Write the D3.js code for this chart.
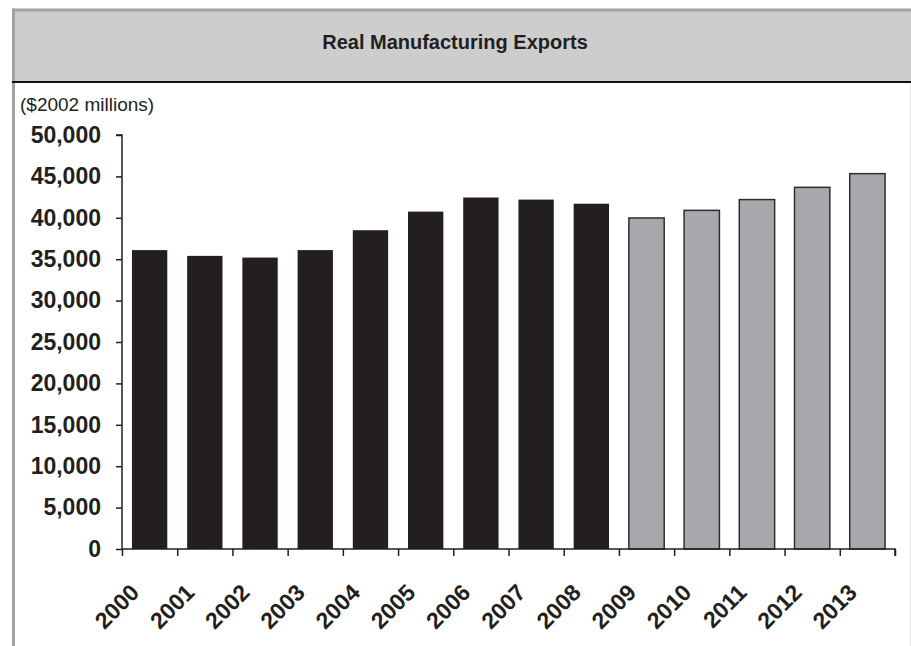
<!DOCTYPE html>
<html lang="en">
<head>
<meta charset="UTF-8">
<title>Real Manufacturing Exports</title>
<style>
    body {
        margin: 0;
        padding: 0;
        background-color: #fff;
        font-family: "Liberation Sans", Arial, sans-serif;
    }
    svg text {
        fill: #231f20;
    }
</style>
</head>
<body>
<svg id="chart" width="911" height="646"></svg>

<script src="https://d3js.org/d3.v7.min.js"></script>
<script>
    // data
    var years = ["2000", "2001", "2002", "2003", "2004", "2005", "2006",
                 "2007", "2008", "2009", "2010", "2011", "2012", "2013"];
    var exportsValues = [36100, 35400, 35200, 36100, 38500, 40750, 42450,
                         42200, 41700, 39980, 40900, 42200, 43680, 45330];
    // first forecast year (grey bars)
    var forecastFrom = "2009";
    var yTicks = [0, 5000, 10000, 15000, 20000, 25000, 30000, 35000, 40000, 45000, 50000];

    var svg = d3.select("#chart");

    // frame and header band
    svg.append("rect")
        .attr("x", 13).attr("y", 10)
        .attr("width", 898).attr("height", 72)
        .attr("fill", "#cccdcc");
    svg.append("line")
        .attr("x1", 13).attr("x2", 911).attr("y1", 10).attr("y2", 10)
        .attr("stroke", "#a2a2a2").attr("stroke-width", 3);
    svg.append("line")
        .attr("x1", 13.5).attr("x2", 13.5).attr("y1", 8.5).attr("y2", 646)
        .attr("stroke", "#a2a2a2").attr("stroke-width", 3);
    svg.append("line")
        .attr("x1", 910.5).attr("x2", 910.5).attr("y1", 82).attr("y2", 646)
        .attr("stroke", "#e4e4e4").attr("stroke-width", 1);
    svg.append("line")
        .attr("x1", 12).attr("x2", 911).attr("y1", 82).attr("y2", 82)
        .attr("stroke", "#111").attr("stroke-width", 2);

    svg.append("text")
        .attr("x", 455).attr("y", 49)
        .attr("text-anchor", "middle")
        .style("font-size", "20px")
        .style("font-weight", "bold")
        .text("Real Manufacturing Exports");

    svg.append("text")
        .attr("x", 20).attr("y", 111)
        .style("font-size", "19px")
        .text("($2002 millions)");

    // scales
    var xScale = d3.scaleBand()
        .domain(years)
        .range([122, 895])
        .paddingInner(0.36)
        .paddingOuter(0.18);

    var yScale = d3.scaleLinear()
        .domain([0, 50000])
        .range([549, 135]);

    // bars
    svg.append("g")
        .selectAll("rect")
        .data(years)
        .join("rect")
        .attr("x", function(d) { return xScale(d); })
        .attr("width", xScale.bandwidth())
        .attr("y", function(d, i) { return yScale(exportsValues[i]); })
        .attr("height", function(d, i) { return yScale(0) - yScale(exportsValues[i]); })
        .attr("fill", function(d) { return +d >= +forecastFrom ? "#a6a8ab" : "#231f20"; })
        .attr("stroke", function(d) { return +d >= +forecastFrom ? "#2e2e2e" : "none"; })
        .attr("stroke-width", 1.5);

    // y axis
    var yAxis = d3.axisLeft(yScale)
        .tickValues(yTicks)
        .tickSize(6)
        .tickPadding(15)
        .tickFormat(d3.format(","));

    var yG = svg.append("g")
        .attr("transform", "translate(122, 0)")
        .call(yAxis);
    yG.selectAll("path, line").attr("stroke", "#231f20").attr("stroke-width", 1.5);
    yG.selectAll("text")
        .style("font-size", "23px")
        .style("font-weight", "bold")
        .style("font-family", "'Liberation Sans', Arial, sans-serif")
        .attr("fill", "#231f20");
    yG.select(".domain").attr("d", "M-6,135H0V549");

    // x axis: ticks sit between the bars (category boundaries), labels under the bars
    var xTickScale = d3.scaleLinear().domain([0, years.length]).range([122, 895]);
    var xAxis = d3.axisBottom(xTickScale)
        .tickValues(d3.range(years.length + 1))
        .tickSize(7)
        .tickFormat("");

    var xG = svg.append("g")
        .attr("transform", "translate(0, 549)")
        .call(xAxis);
    xG.selectAll("path, line").attr("stroke", "#231f20").attr("stroke-width", 1.5);
    xG.select(".domain").attr("d", "M122,0H895V7");

    svg.append("g")
        .selectAll("text")
        .data(years)
        .join("text")
        .attr("transform", function(d) {
            var cx = xScale(d) + xScale.bandwidth() / 2 - 9;
            return "translate(" + cx + ", 594) rotate(-45)";
        })
        .attr("text-anchor", "end")
        .style("font-size", "23px")
        .style("font-weight", "bold")
        .text(function(d) { return d; });
</script>
</body>
</html>
